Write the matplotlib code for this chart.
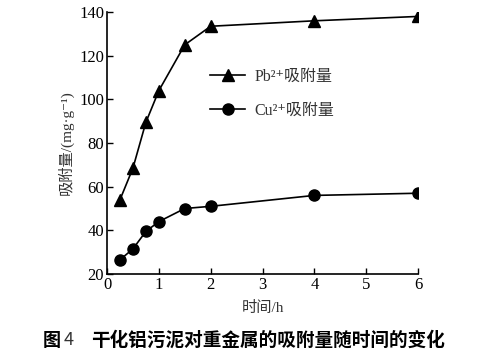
import matplotlib
matplotlib.use("Agg")
import matplotlib.pyplot as plt

time_h = [0.25, 0.5, 0.75, 1.0, 1.5, 2.0, 4.0, 6.0]
pb_ads = [54, 68.5, 89.5, 104, 125, 133.5, 136, 138]
cu_ads = [26.5, 31.5, 39.5, 44, 50, 51, 56, 57]
xticks = [0, 1, 2, 3, 4, 5, 6]
yticks = [20, 40, 60, 80, 100, 120, 140]

serif = ['Liberation Serif', 'Noto Sans CJK SC', 'DejaVu Sans']
plt.rcParams['font.family'] = serif

fig = plt.figure(figsize=(4.79, 3.55), dpi=100)
ax = fig.add_axes([0.2234, 0.2282, 0.8727 - 0.2234, 0.966 - 0.2282])

ax.plot(time_h, pb_ads, color='black', lw=1.2, marker='^', ms=8, label='Pb²⁺吸附量')
ax.plot(time_h, cu_ads, color='black', lw=1.2, marker='o', ms=8, label='Cu²⁺吸附量')

ax.set_xlim(0, 6)
ax.set_ylim(20, 140)
ax.set_xticks(xticks)
ax.set_yticks(yticks)
ax.tick_params(direction='in', length=4, width=1, labelsize=12, pad=2)
for s in ['top', 'right']:
    ax.spines[s].set_visible(False)
for s in ['left', 'bottom']:
    ax.spines[s].set_linewidth(1.2)

ax.set_xlabel('时间/h', fontsize=11, labelpad=6, color='#333333')
ax.set_ylabel('吸附量/(mg·g⁻¹)', fontsize=11, labelpad=4, color='#333333')

leg = ax.legend(loc='upper left', bbox_to_anchor=(0.285, 0.84), frameon=False,
                fontsize=11.5, handlelength=2.2, labelspacing=1.15, handletextpad=0.6)
for t in leg.get_texts():
    t.set_color('#333333')

cap_font = ['Noto Sans CJK SC', 'DejaVu Sans']
fig.text(43 / 479, 0.042, '图', ha='left', va='center',
         fontsize=13, fontweight='bold', family=cap_font)
fig.text(64 / 479, 0.042, '4', ha='left', va='center',
         fontsize=13, family=cap_font, color='#333333')
fig.text(445 / 479, 0.042, '干化铝污泥对重金属的吸附量随时间的变化', ha='right', va='center',
         fontsize=13.4, fontweight='bold', family=cap_font)

fig.savefig('out.png', dpi=100)
